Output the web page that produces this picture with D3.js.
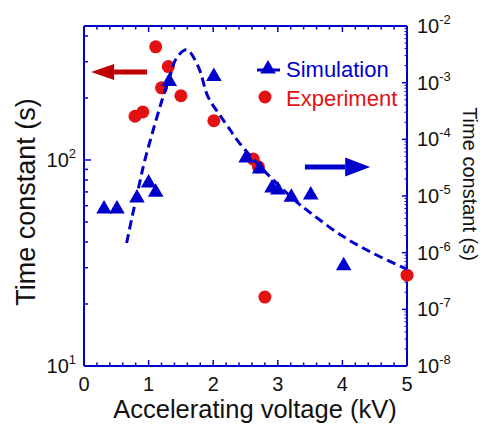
<!DOCTYPE html>
<html>
<head>
<meta charset="utf-8">
<script src="https://cdn.jsdelivr.net/npm/d3@7"></script>
<style>
  body { margin: 0; background: #fff; }
  text { font-family: "Liberation Sans", Arial, sans-serif; }
</style>
</head>
<body>
<svg width="480" height="427"></svg>
<script>
// data
const expVoltage = [1.11, 1.305, 1.20, 1.50, 0.79, 0.91, 2.01, 2.62, 2.70, 2.80, 5.00];
const expTime    = [354, 284, 224, 205, 163, 171, 155, 101, 92.5, 21.6, 27.6];   // left axis, s

const simVoltage = [0.31, 0.51, 0.82, 1.00, 1.11, 1.32, 2.01, 2.51, 2.72, 2.91, 3.00, 3.21, 3.51, 4.02];
const simTime    = [5.9e-6, 5.9e-6, 9.2e-6, 1.7e-5, 1.17e-5, 1.05e-3, 1.28e-3, 4.7e-5, 3.0e-5, 1.38e-5, 1.28e-5, 9.5e-6, 1.04e-5, 5.9e-7]; // right axis, s

const fitVoltage = [0.66, 0.75, 0.87, 0.93, 1.05, 1.20, 1.33, 1.43, 1.59, 1.77, 1.92, 2.10, 2.23, 2.41, 2.83, 3.29, 3.52, 3.99, 4.47, 5.0];
const fitTime    = [1.48e-6, 4.57e-6, 1.9e-5, 3.8e-5, 1.2e-4, 4.6e-4, 1.29e-3, 2.7e-3, 3.8e-3, 1.9e-3, 5.6e-4, 2.7e-4, 1.66e-4, 8.5e-5, 2.5e-5, 7.9e-6, 4.9e-6, 2.0e-6, 9.8e-7, 5.1e-7];

const xTicks = [0, 1, 2, 3, 4, 5];
const leftTicks = [10, 100];      // labelled 10^1, 10^2
const rightTicks = [1e-8, 1e-7, 1e-6, 1e-5, 1e-4, 1e-3, 1e-2];

const blue = "#0000cc";
const red = "#e31111";
const darkRed = "#c00000";

const plot = { left: 84, right: 407, top: 26, bottom: 366 };

const svg = d3.select("svg");

const x = d3.scaleLinear().domain([0, 5]).range([plot.left, plot.right]);
const yL = d3.scaleLog().domain([10, 447]).range([plot.bottom, plot.top]);
const yR = d3.scaleLog().domain([1e-8, 1e-2]).range([plot.bottom, plot.top]);

// ---- axes ----
const axes = svg.append("g").attr("stroke", blue).attr("stroke-width", 2);

// frame lines
axes.append("line").attr("x1", plot.left).attr("x2", plot.right).attr("y1", plot.bottom).attr("y2", plot.bottom);
axes.append("line").attr("x1", plot.left).attr("x2", plot.right).attr("y1", plot.top).attr("y2", plot.top);
axes.append("line").attr("x1", plot.left).attr("x2", plot.left).attr("y1", plot.top).attr("y2", plot.bottom);
axes.append("line").attr("x1", plot.right).attr("x2", plot.right).attr("y1", plot.top).attr("y2", plot.bottom);

// x ticks (every 0.2, majors every 1), bottom and top, pointing in
const xMinor = d3.range(0, 5.001, 0.2);
xMinor.forEach(v => {
  const major = Math.abs(v - Math.round(v)) < 1e-6;
  const len = major ? 6 : 3.5;
  axes.append("line").attr("x1", x(v)).attr("x2", x(v)).attr("y1", plot.bottom).attr("y2", plot.bottom - len).attr("stroke-width", 1.5);
  axes.append("line").attr("x1", x(v)).attr("x2", x(v)).attr("y1", plot.top).attr("y2", plot.top + len).attr("stroke-width", 1.5);
});

// left log ticks
const leftMinor = [20, 30, 40, 50, 60, 70, 80, 90, 200, 300, 400];
leftMinor.forEach(v => {
  axes.append("line").attr("x1", plot.left).attr("x2", plot.left + 4).attr("y1", yL(v)).attr("y2", yL(v)).attr("stroke-width", 1.5);
});
leftTicks.forEach(v => {
  axes.append("line").attr("x1", plot.left).attr("x2", plot.left + 7).attr("y1", yL(v)).attr("y2", yL(v)).attr("stroke-width", 1.5);
});

// right log ticks
rightTicks.forEach((v, i) => {
  axes.append("line").attr("x1", plot.right).attr("x2", plot.right - 5).attr("y1", yR(v)).attr("y2", yR(v)).attr("stroke-width", 1.5);
  if (i < rightTicks.length - 1) {
    d3.range(2, 10).forEach(m => {
      axes.append("line").attr("x1", plot.right).attr("x2", plot.right - 2.5).attr("y1", yR(v * m)).attr("y2", yR(v * m)).attr("stroke-width", 1);
    });
  }
});

// tick labels
const labels = svg.append("g").attr("fill", "#111");
xTicks.forEach(v => {
  labels.append("text").attr("x", x(v)).attr("y", 391).attr("text-anchor", "middle")
    .attr("font-size", 20).text(v);
});

function powerLabel(g, px, py, exp, anchorEnd) {
  const t = g.append("text").attr("x", px).attr("y", py).attr("font-size", 20)
    .attr("text-anchor", anchorEnd ? "end" : "start");
  t.append("tspan").text("10");
  t.append("tspan").attr("font-size", 13).attr("dy", -9).text(exp);
}
leftTicks.forEach(v => powerLabel(labels, plot.left - 8, yL(v) + 7, Math.round(Math.log10(v)), true));
rightTicks.forEach(v => powerLabel(labels, plot.right + 10, yR(v) + 7, Math.round(Math.log10(v)), false));

// axis titles
svg.append("text").attr("transform", "translate(255,418)")
  .attr("text-anchor", "middle").attr("font-size", 25.5).attr("fill", "#111")
  .text("Accelerating voltage (kV)");
svg.append("text").attr("transform", "translate(35,202) rotate(-90)")
  .attr("text-anchor", "middle").attr("font-size", 27).attr("fill", "#111")
  .text("Time constant (s)");
svg.append("text").attr("transform", "translate(463,184) rotate(90)")
  .attr("text-anchor", "middle").attr("font-size", 20).attr("fill", "#111")
  .text("Time constant (s)");

// ---- marks ----
const expData = expVoltage.map((v, i) => ({ v, t: expTime[i] }));
const simData = simVoltage.map((v, i) => ({ v, t: simTime[i] }));
const fitData = fitVoltage.map((v, i) => ({ v, t: fitTime[i] }));

svg.append("g").selectAll("circle").data(expData).join("circle")
  .attr("cx", d => x(d.v)).attr("cy", d => yL(d.t)).attr("r", 6.5).attr("fill", red);

const line = d3.line().x(d => x(d.v)).y(d => yR(d.t)).curve(d3.curveCatmullRom.alpha(0.5));
svg.append("path").datum(fitData).attr("d", line)
  .attr("fill", "none").attr("stroke", blue).attr("stroke-width", 3)
  .attr("stroke-dasharray", "9,5");

const tri = d3.symbol().type(d3.symbolTriangle).size(105);
svg.append("g").selectAll("path").data(simData).join("path")
  .attr("transform", d => `translate(${x(d.v)},${yR(d.t)})`)
  .attr("d", tri).attr("fill", blue);

// ---- arrows ----
function arrow(x0, x1, py, color, headLen, headH) {
  const dir = x1 > x0 ? 1 : -1;
  const xb = x1 - dir * headLen;
  svg.append("line").attr("x1", x0).attr("x2", xb).attr("y1", py).attr("y2", py)
    .attr("stroke", color).attr("stroke-width", 5);
  svg.append("path").attr("d", `M${x1},${py}L${xb},${py - headH / 2}L${xb},${py + headH / 2}Z`).attr("fill", color);
}
arrow(x(0.975), x(0.11), yL(267), darkRed, 23, 16);
arrow(x(3.42), x(4.43), yR(3.25e-5), blue, 25, 19);

// ---- legend ----
const lg = svg.append("g");
lg.append("line").attr("x1", 257).attr("x2", 280).attr("y1", 70).attr("y2", 70)
  .attr("stroke", blue).attr("stroke-width", 3);
lg.append("path").attr("transform", "translate(268,69)").attr("d", tri).attr("fill", blue);
lg.append("text").attr("x", 286).attr("y", 77).attr("font-size", 22).attr("fill", blue).text("Simulation");
lg.append("circle").attr("cx", 265).attr("cy", 97).attr("r", 6.5).attr("fill", red);
lg.append("text").attr("x", 286).attr("y", 106).attr("font-size", 22).attr("fill", red).text("Experiment");
</script>
</body>
</html>
